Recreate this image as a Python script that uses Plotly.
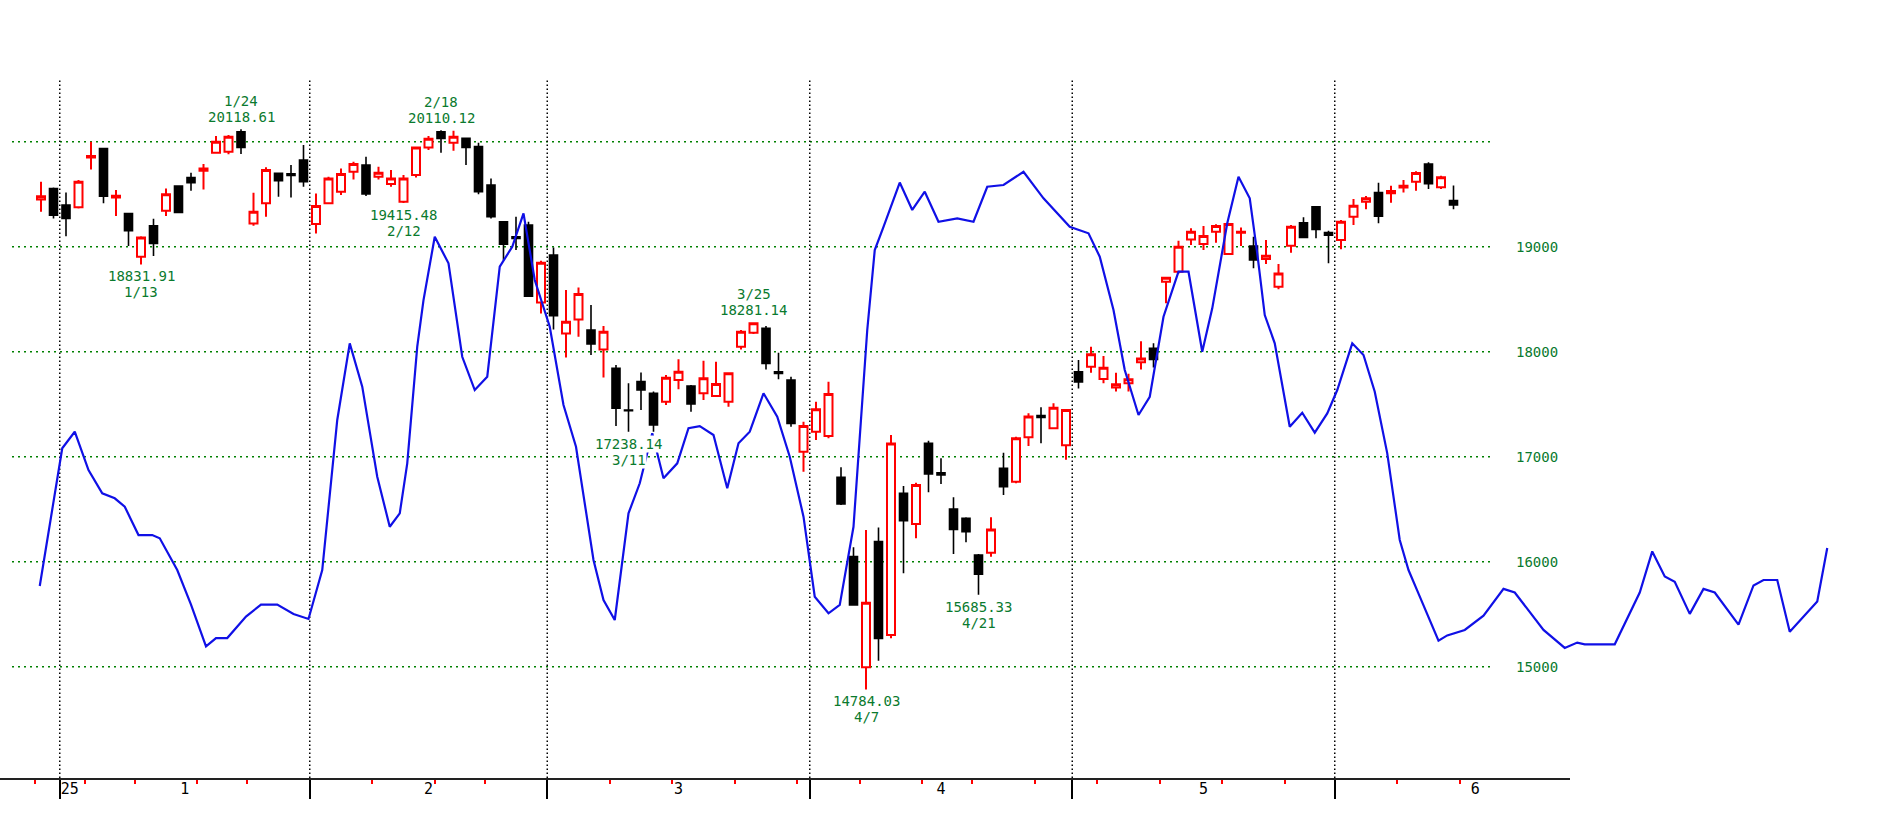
import pandas as pd
import plotly.graph_objects as go

# ---------------- data ----------------
dates = [
    "2024-12-30", "2024-12-31", "2025-01-02", "2025-01-03", "2025-01-06", "2025-01-07", "2025-01-08",
    "2025-01-10", "2025-01-13", "2025-01-14", "2025-01-15", "2025-01-16", "2025-01-17", "2025-01-21",
    "2025-01-22", "2025-01-23", "2025-01-24", "2025-01-27", "2025-01-28", "2025-01-29", "2025-01-30",
    "2025-01-31", "2025-02-03", "2025-02-04", "2025-02-05", "2025-02-06", "2025-02-07", "2025-02-10",
    "2025-02-11", "2025-02-12", "2025-02-13", "2025-02-14", "2025-02-18", "2025-02-19", "2025-02-20",
    "2025-02-21", "2025-02-24", "2025-02-25", "2025-02-26", "2025-02-27", "2025-02-28", "2025-03-03",
    "2025-03-04", "2025-03-05", "2025-03-06", "2025-03-07", "2025-03-10", "2025-03-11", "2025-03-12",
    "2025-03-13", "2025-03-14", "2025-03-17", "2025-03-18", "2025-03-19", "2025-03-20", "2025-03-21",
    "2025-03-24", "2025-03-25", "2025-03-26", "2025-03-27", "2025-03-28", "2025-03-31", "2025-04-01",
    "2025-04-02", "2025-04-03", "2025-04-04", "2025-04-07", "2025-04-08", "2025-04-09", "2025-04-10",
    "2025-04-11", "2025-04-14", "2025-04-15", "2025-04-16", "2025-04-17", "2025-04-21", "2025-04-22",
    "2025-04-23", "2025-04-24", "2025-04-25", "2025-04-28", "2025-04-29", "2025-04-30", "2025-05-01",
    "2025-05-02", "2025-05-05", "2025-05-06", "2025-05-07", "2025-05-08", "2025-05-09", "2025-05-12",
    "2025-05-13", "2025-05-14", "2025-05-15", "2025-05-16", "2025-05-19", "2025-05-20", "2025-05-21",
    "2025-05-22", "2025-05-23", "2025-05-27", "2025-05-28", "2025-05-29", "2025-05-30", "2025-06-02",
    "2025-06-03", "2025-06-04", "2025-06-05", "2025-06-06", "2025-06-09", "2025-06-10", "2025-06-11",
    "2025-06-12", "2025-06-13",
]
opens = [
    19451, 19555, 19397, 19375, 19851, 19936, 19470, 19317, 18905, 19200, 19343, 19578, 19660, 19724,
    19895, 19905, 20095, 19222, 19413, 19699, 19695, 19825, 19216, 19413, 19524, 19714, 19778, 19667,
    19597, 19429, 19683, 19946, 20095, 19991, 20032, 19955, 19587, 19238, 19095, 19206, 18470, 18920,
    18174, 18308, 18206, 18022, 17842, 17445, 17715, 17604, 17524, 17731, 17674, 17604, 17578, 17524,
    18047, 18180, 18222, 17810, 17731, 17048, 17239, 17197, 16804, 16048, 14994, 16191, 15302, 16651,
    16359, 17127, 16848, 16502, 16413, 16064, 16086, 16889, 16762, 17185, 17391, 17270, 17110, 17810,
    17857, 17740, 17660, 17700, 17900, 18032, 18667, 18762, 19070, 19026, 19143, 18930, 19134, 19007,
    18883, 18619, 19010, 19229, 19381, 19134, 19064, 19286, 19429, 19515, 19510, 19565, 19618, 19788,
    19567, 19441,
]
highs = [
    19619, 19565, 19517, 19635, 20000, 19936, 19540, 19317, 19101, 19266, 19555, 19578, 19705, 19787,
    20054, 20064, 20118.61, 19514, 19756, 19699, 19778, 19968, 19508, 19667, 19746, 19810, 19857, 19762,
    19730, 19683, 19946, 20054, 20110.12, 20105, 20041, 19990, 19651, 19238, 19286, 19238, 18866, 18993,
    18587, 18612, 18444, 18244, 17874, 17699, 17801, 17620, 17778, 17928, 17683, 17915, 17905, 17801,
    18206, 18281.14, 18244, 17991, 17762, 17334, 17524, 17715, 16899, 16137, 16302, 16327, 17207, 16721,
    16753, 17153, 16985, 16613, 16423, 16073, 16423, 17039, 17191, 17413, 17470, 17509, 17450, 17921,
    18048, 17959, 17800, 17790, 18100, 18080, 18705, 19058, 19175, 19197, 19213, 19223, 19184, 19096,
    19064, 18835, 19207, 19280, 19381, 19153, 19254, 19454, 19483, 19610, 19580, 19635, 19720, 19805,
    19676, 19584,
]
lows = [
    19333, 19270, 19101, 19365, 19736, 19413, 19292, 19006, 18831.91, 18911, 19292, 19327, 19533, 19546,
    19895, 19880, 19883, 19200, 19286, 19476, 19470, 19572, 19127, 19406, 19492, 19641, 19483, 19641,
    19572, 19415.48, 19660, 19921, 19895, 19914, 19778, 19500, 19270, 18873, 18968, 18530, 18365, 18212,
    17946, 18143, 17968, 17755, 17293, 17238.14, 17445, 17239, 17493, 17642, 17429, 17540, 17572, 17477,
    18022, 18168, 17831, 17737, 17286, 16858, 17159, 17175, 16540, 15588, 14784.03, 15057, 15270, 15889,
    16223, 16661, 16740, 16074, 16185, 15685.33, 16048, 16635, 16747, 17102, 17128, 17261, 16970, 17650,
    17800, 17700, 17620, 17620, 17830, 17850, 18461, 18746, 19016, 18969, 19038, 18930, 19007, 18794,
    18835, 18594, 18943, 19080, 19080, 18842, 18975, 19207, 19356, 19223, 19420, 19516, 19533, 19550,
    19550, 19356,
]
closes = [
    19482, 19301, 19270, 19619, 19863, 19482, 19486, 19152, 19089, 19031, 19501, 19327, 19609, 19746,
    20000, 20048, 19946, 19333, 19730, 19629, 19680, 19619, 19387, 19651, 19692, 19787, 19502, 19705,
    19651, 19651, 19946, 20029, 20032, 20048, 19946, 19524, 19286, 19025, 19079, 18530, 18847, 18343,
    18285, 18549, 18073, 18190, 17461, 17439, 17636, 17302, 17753, 17810, 17502, 17747, 17693, 17794,
    18190, 18271, 17889, 17794, 17318, 17293, 17451, 17597, 16550, 15588, 15610, 15270, 17127, 16391,
    16731, 16835, 16826, 16308, 16286, 15880, 16308, 16715, 17175, 17382, 17375, 17467, 17446, 17711,
    17975, 17848, 17690, 17738, 17935, 17927, 18705, 19000, 19143, 19102, 19197, 19216, 19143, 18873,
    18915, 18746, 19191, 19089, 19165, 19111, 19238, 19391, 19461, 19292, 19530, 19580, 19703, 19601,
    19662, 19397,
]

# overlay line: knots as (trading-day position, value)
blue_day = [
    -0.1, 1.7, 2.7, 3.8, 4.9, 5.9, 6.7, 7.8, 8.9, 9.5, 10.9, 12.0, 13.2, 14.0, 14.9, 16.4, 17.6, 18.9,
    20.2, 21.4, 22.5, 23.7, 24.7, 25.7, 26.9, 27.9, 28.7, 29.3, 30.1, 30.6, 31.5, 32.6, 33.7, 34.7,
    35.7, 36.7, 37.7, 38.6, 39.5, 40.7, 41.8, 42.8, 44.2, 45.0, 45.9, 47.0, 47.9, 48.9, 49.8, 50.9,
    51.8, 52.7, 53.8, 54.9, 55.8, 56.7, 57.8, 58.9, 59.9, 61.0, 61.9, 63.0, 63.9, 65.0, 66.1, 66.7,
    67.4, 68.7, 69.7, 70.7, 71.8, 73.3, 74.6, 75.7, 77.0, 78.6, 80.2, 82.3, 83.8, 84.7, 85.8, 86.7,
    87.8, 88.7, 89.8, 91.0, 91.8, 92.9, 93.7, 94.9, 95.8, 96.7, 97.3, 97.9, 98.7, 99.9, 100.9, 101.9,
    102.9, 103.7, 104.9, 105.8, 106.7, 107.7, 108.7, 109.4, 110.1, 111.8, 112.5, 113.9, 115.4, 117.0,
    117.9, 120.2, 121.9, 122.9, 123.5, 125.9, 127.9, 128.9, 129.9, 130.7, 131.9, 133.0, 133.9, 135.8,
    137.0, 137.8, 138.9, 139.9, 142.1, 142.9,
]
blue_value = [
    15769, 17080, 17238, 16873, 16651, 16604, 16524, 16254, 16254, 16223, 15921, 15592, 15193, 15273,
    15273, 15478, 15592, 15592, 15502, 15455, 15921, 17350, 18080, 17667, 16810, 16333, 16461, 16937,
    18048, 18492, 19095, 18842, 17952, 17635, 17762, 18810, 19000, 19318, 18683, 18238, 17492, 17095,
    16016, 15635, 15445, 16461, 16747, 17223, 16794, 16937, 17271, 17292, 17207, 16699, 17128, 17238,
    17604, 17381, 17000, 16429, 15667, 15509, 15588, 16333, 18207, 18968, 19190, 19611, 19350, 19524,
    19238, 19270, 19238, 19571, 19588, 19714, 19461, 19190, 19128, 18905, 18397, 17826, 17397, 17571,
    18333, 18762, 18762, 18000, 18413, 19223, 19667, 19461, 18937, 18349, 18080, 17286, 17419, 17229,
    17413, 17635, 18080, 17969, 17619, 17032, 16207, 15921, 15724, 15248, 15298, 15350, 15486, 15741,
    15707, 15350, 15179, 15230, 15213, 15213, 15707, 16098, 15860, 15809, 15503, 15741, 15707, 15401,
    15774, 15826, 15826, 15332, 15622, 16131,
]

price_ticks = [15000, 16000, 17000, 18000, 19000]
grid_levels = [15000, 16000, 17000, 18000, 19000, 20000]
month_labels = ["1", "2", "3", "4", "5", "6"]
year_label = "25"

ext_dates = ["2025-01-13", "2025-01-24", "2025-02-12", "2025-02-18",
             "2025-03-11", "2025-03-25", "2025-04-07", "2025-04-21"]
ext_values = [18831.91, 20118.61, 19415.48, 20110.12, 17238.14, 18281.14, 14784.03, 15685.33]
ext_kinds = ["low", "high", "low", "high", "low", "high", "low", "low"]

# ---------------- geometry / style ----------------
W, H = 1877, 815
PLOT_H = 778          # bottom of plotting area (px)
DAY_PX = 12.5         # pixels per trading day
FIRST_PX = 41         # pixel centre of first candle
AXIS_END_PX = 1570    # where the time axis line ends
GRID_X0, GRID_X1 = 12, 1493
VLINE_TOP = 80
Y_LO, Y_HI = 13940, 21350
GREEN_TXT = "#0a7a2e"
GRID_GREEN = "#008000"
MONO = "DejaVu Sans Mono"
FULL_MONTH_DAYS = 22.5  # assumed span of the (incomplete) last month for its label

n = len(dates)
idx = list(range(n))
dts = pd.to_datetime(dates)

x_lo = -FIRST_PX / DAY_PX
x_main_hi = x_lo + AXIS_END_PX / DAY_PX
x_full_hi = x_lo + W / DAY_PX

month_starts = [i for i in range(1, n) if dts[i].month != dts[i - 1].month]
month_bounds = [i - 0.5 for i in month_starts]

week_bounds = []
if dts[0].weekday() == 0:
    week_bounds.append(-0.5)
for i in range(1, n):
    if dts[i].month == dts[i - 1].month and dts[i].isocalendar()[1] != dts[i - 1].isocalendar()[1]:
        week_bounds.append(i - 0.5)
if dts[-1].weekday() == 4:
    week_bounds.append(n - 0.5)

label_pos = [month_bounds[0] + 0.8]
label_txt = [year_label]
for k, b in enumerate(month_bounds):
    nxt = month_bounds[k + 1] if k + 1 < len(month_bounds) else b + FULL_MONTH_DAYS
    label_pos.append((b + nxt) / 2)
    label_txt.append(month_labels[k])

fig = go.Figure()

fig.add_trace(go.Candlestick(
    x=idx, open=opens, high=highs, low=lows, close=closes,
    increasing=dict(line=dict(color="#ff0000", width=2), fillcolor="#ffffff"),
    decreasing=dict(line=dict(color="#000000", width=1.6), fillcolor="#000000"),
    whiskerwidth=0, showlegend=False, hoverinfo="skip",
    xaxis="x", yaxis="y",
))

# invisible carrier so the month-label axis is drawn
fig.add_trace(go.Scatter(
    x=label_pos, y=[None] * len(label_pos), mode="markers",
    marker=dict(opacity=0), showlegend=False, hoverinfo="skip",
    xaxis="x3", yaxis="y",
))

fig.add_trace(go.Scatter(
    x=blue_day, y=blue_value, mode="lines",
    line=dict(color="#1010e6", width=2.2),
    showlegend=False, hoverinfo="skip", xaxis="x2", yaxis="y2",
))

shapes = []
for lvl in grid_levels:
    shapes.append(dict(type="line", xref="paper", yref="y", x0=GRID_X0 / W, x1=GRID_X1 / W,
                       y0=lvl, y1=lvl, layer="below",
                       line=dict(color=GRID_GREEN, width=1.5, dash="2px,4px")))
for b in month_bounds:
    shapes.append(dict(type="line", xref="x", yref="paper", x0=b, x1=b, y0=0,
                       y1=(PLOT_H - VLINE_TOP) / PLOT_H, layer="below",
                       line=dict(color="#000000", width=1.5, dash="1.5px,2.5px")))

annotations = []
for d, v, kind in zip(ext_dates, ext_values, ext_kinds):
    i = dates.index(d)
    ts = pd.Timestamp(d)
    md = f"{ts.month}/{ts.day}"
    val = f"{v:.2f}"
    if kind == "high":
        parts = [(val, 3, "bottom"), (md, 19, "bottom")]
    else:
        parts = [(val, -3, "top"), (md, -19, "top")]
    for txt, shift, ya in parts:
        annotations.append(dict(
            x=i, y=v, xref="x", yref="y", text=txt, showarrow=False,
            yanchor=ya, yshift=shift, xanchor="center",
            font=dict(family=MONO, size=14, color=GREEN_TXT),
            bgcolor="#ffffff", borderpad=0,
        ))

fig.update_layout(
    width=W, height=H,
    margin=dict(l=0, r=0, t=0, b=H - PLOT_H, pad=0),
    paper_bgcolor="#ffffff", plot_bgcolor="rgba(0,0,0,0)",
    showlegend=False, boxgap=0.36, boxgroupgap=0,
    shapes=shapes, annotations=annotations,
    xaxis=dict(
        domain=[0, AXIS_END_PX / W], range=[x_lo, x_main_hi], anchor="y",
        showline=True, linecolor="#222222", linewidth=2, showgrid=False, zeroline=False,
        ticks="outside", tickmode="array", tickvals=month_bounds, ticklen=19, tickwidth=1.5,
        tickcolor="#000000", showticklabels=False, rangeslider=dict(visible=False),
        minor=dict(tickmode="array", tickvals=week_bounds, ticks="outside", ticklen=4,
                   tickwidth=1.5, tickcolor="#ff0000", showgrid=False),
        fixedrange=True,
    ),
    xaxis3=dict(
        overlaying="x", anchor="y", side="bottom", range=[x_lo, x_main_hi],
        tickmode="array", tickvals=label_pos, ticktext=label_txt, ticks="",
        showline=False, showgrid=False, zeroline=False, fixedrange=True,
        tickfont=dict(family=MONO, size=15, color="#000000"),
    ),
    yaxis=dict(
        domain=[0, 1], range=[Y_LO, Y_HI], anchor="free", position=1515 / W, side="right",
        tickmode="array", tickvals=price_ticks, ticktext=[str(t) for t in price_ticks],
        ticks="", showline=False, showgrid=False, zeroline=False, fixedrange=True,
        tickfont=dict(family=MONO, size=14, color=GREEN_TXT),
    ),
    xaxis2=dict(domain=[0, 1], range=[x_lo, x_full_hi], anchor="y2", visible=False, fixedrange=True),
    yaxis2=dict(domain=[0, 1], range=[Y_LO, Y_HI], anchor="x2", visible=False, fixedrange=True),
)

fig.write_html("out.html", config={"displayModeBar": False},
               post_script="document.body.style.margin='0px';")
